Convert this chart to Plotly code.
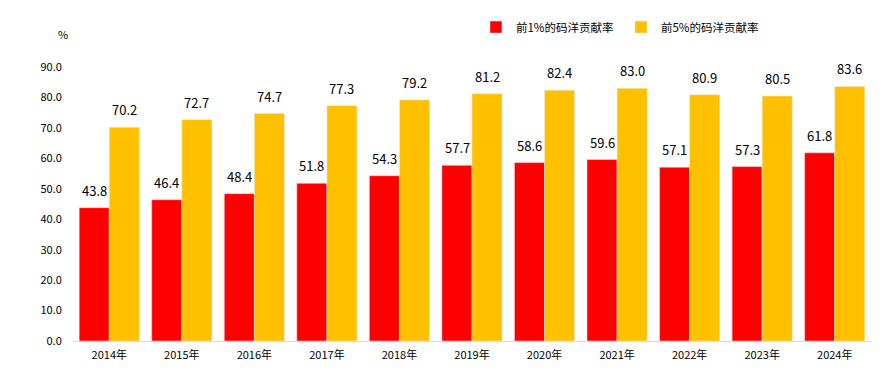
import plotly.graph_objects as go

years = ["2014年", "2015年", "2016年", "2017年", "2018年", "2019年", "2020年", "2021年", "2022年", "2023年", "2024年"]
top1 = [43.8, 46.4, 48.4, 51.8, 54.3, 57.7, 58.6, 59.6, 57.1, 57.3, 61.8]
top5 = [70.2, 72.7, 74.7, 77.3, 79.2, 81.2, 82.4, 83.0, 80.9, 80.5, 83.6]
name1 = "前1%的码洋贡献率"
name5 = "前5%的码洋贡献率"
tickvals = [0, 10, 20, 30, 40, 50, 60, 70, 80, 90]

FONT = "Noto Sans CJK SC, Microsoft YaHei, sans-serif"

fig = go.Figure()
fig.add_trace(go.Bar(x=years, y=top1, name=name1, marker_color="#FF0000"))
fig.add_trace(go.Bar(x=years, y=top5, name=name5, marker_color="#FFC000"))

# data labels above bars
for yr, v in zip(years, top1):
    fig.add_annotation(x=yr, y=v, xshift=-15, yshift=6, text=f"{v:.1f}", showarrow=False,
                       yanchor="bottom", xanchor="center", font=dict(size=13, color="#000000"))
for yr, v in zip(years, top5):
    fig.add_annotation(x=yr, y=v, xshift=15, yshift=6, text=f"{v:.1f}", showarrow=False,
                       yanchor="bottom", xanchor="center", font=dict(size=13, color="#000000"))

fig.update_layout(
    width=884, height=367,
    margin=dict(l=65, r=21, t=59, b=34, autoexpand=False),
    paper_bgcolor="white", plot_bgcolor="white",
    barmode="group", bargap=0.17, bargroupgap=0,
    font=dict(family=FONT, size=12, color="#000000"),
    legend=dict(orientation="h", x=0.505, y=0.948, xref="paper", yref="container",
                xanchor="left", yanchor="middle",
                font=dict(size=11.5), itemwidth=30, traceorder="normal",
                entrywidth=100, entrywidthmode="pixels"),
    showlegend=True,
)
fig.update_xaxes(showline=True, linecolor="#D9D9D9", linewidth=1, ticks="outside",
                 ticklen=4, tickcolor="white", tickfont=dict(size=11), showgrid=False)
fig.update_yaxes(range=[0, 90], tickvals=tickvals, tickformat=".1f", showgrid=False,
                 zeroline=False, showline=False, ticks="outside", ticklen=8, tickcolor="white",
                 tickfont=dict(size=11))
fig.add_annotation(text="%", xref="paper", yref="paper", x=-0.004, y=1.12,
                   xanchor="right", yanchor="middle", showarrow=False, font=dict(size=11))

fig.write_html("out.html")
